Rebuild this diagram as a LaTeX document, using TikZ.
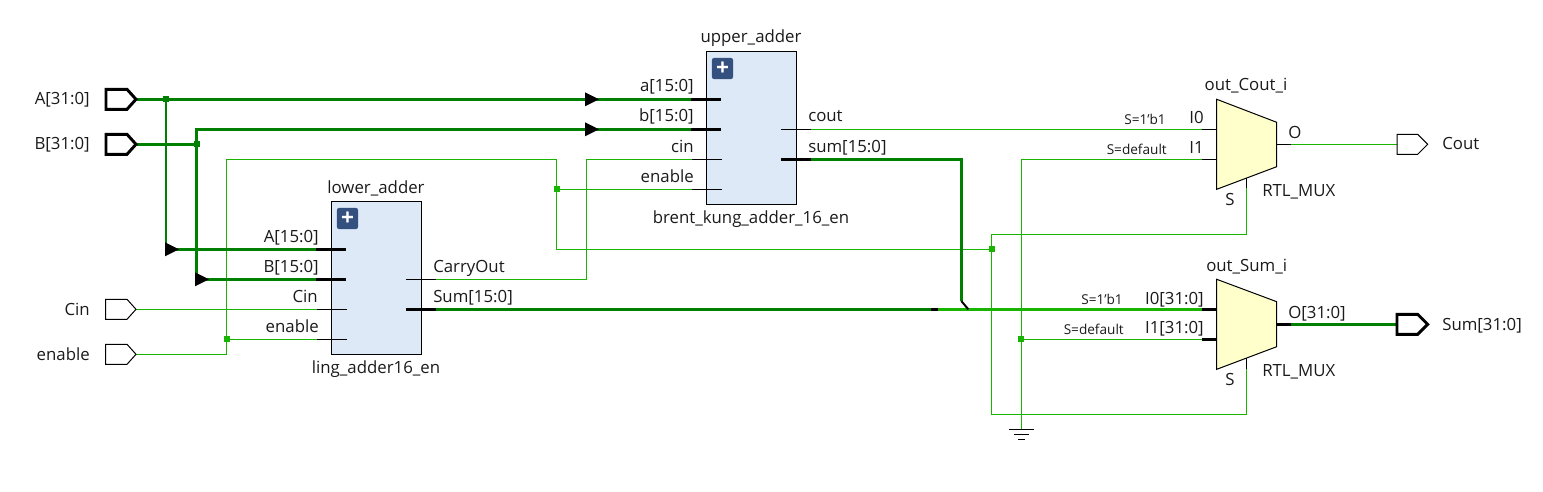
\documentclass[tikz,border=0pt]{standalone}
\usepackage{fontspec}
\setmainfont{Open Sans}
\definecolor{dkwire}{HTML}{008000}
\definecolor{ltwire}{HTML}{19B400}
\definecolor{blockfill}{HTML}{DEE9F8}
\definecolor{muxfill}{HTML}{FFFFCC}
\definecolor{iconfill}{HTML}{34507F}
\definecolor{inkc}{HTML}{1A1A1A}
\tikzset{
 x=0.75pt,y=-0.75pt,
 txt/.style={font=\fontsize{12.6}{15}\selectfont,text=inkc,inner sep=0pt},
 lab/.style={txt,anchor=base east},
 rab/.style={txt,anchor=base west},
 cab/.style={txt,anchor=base},
 small/.style={font=\fontsize{10.2}{12}\selectfont,text=inkc,inner sep=0pt,anchor=base east},
 thinw/.style={draw=ltwire,line width=0.75pt},
 busd/.style={draw=dkwire,line width=2pt},
 busl/.style={draw=ltwire,line width=2pt},
 stubn/.style={draw=black,line width=0.75pt},
 stubb/.style={draw=black,line width=2.1pt},
 blockbox/.style={draw=black,fill=blockfill,line width=0.75pt,outer sep=0pt,minimum width=67.5pt,minimum height=114.5pt,inner sep=0pt,anchor=north west},
 iconbox/.style={fill=iconfill,rounded corners=1.5pt,minimum size=15.8pt,inner sep=0pt,outer sep=0pt,text=white,font=\bfseries\fontsize{17}{17}\selectfont},
 muxshape/.style={draw=black,fill=muxfill,line width=0.75pt},
 portthin/.style={draw=black,fill=white,line width=0.75pt},
 portbus/.style={draw=black,fill=white,line width=2.2pt,miter limit=4},
 juncd/.style={fill=dkwire,minimum size=4.5pt,inner sep=0pt,outer sep=0pt},
 juncl/.style={fill=ltwire,minimum size=4.5pt,inner sep=0pt,outer sep=0pt},
 tri/.style={fill=black},
}
\begin{document}
\begin{tikzpicture}
\useasboundingbox (0,0) rectangle (1543,492);
% ports
\coordinate (pA) at (136,99.3);
\coordinate (pB) at (136,144.3);
\coordinate (pC) at (136,309.3);
\coordinate (pE) at (136,354.3);
\coordinate (pCo) at (1397,144.3);
\coordinate (pSu) at (1397,324.3);
% junctions
\coordinate (jA) at (166,99.3);
\coordinate (jB) at (196.5,144.3);
\coordinate (jE) at (226.5,339.3);
\coordinate (jU) at (556.5,189.3);
\coordinate (jS) at (991.7,249.3);
\coordinate (jG) at (1021.3,339.3);
\coordinate (gnd) at (1021.3,429.5);
% bends
\coordinate (bTop) at (226.5,159.3);
\coordinate (bUp) at (196.5,129.3);
\coordinate (bU1) at (556.5,249.3);
\coordinate (cinC) at (586.5,279.3);
\coordinate (bS1) at (991.7,234.5);
\coordinate (bS2) at (991.7,414.3);
\coordinate (bG) at (1021.3,159.3);
\coordinate (bSum) at (961.3,159.3);
\coordinate (bSumD) at (961.3,301);
\coordinate (bSumE) at (968.3,309.3);
% lower adder pins
\coordinate (lA) at (316,249.3);  \coordinate (lAi) at (346,249.3);
\coordinate (lB) at (316,279.3);  \coordinate (lBi) at (346,279.3);
\coordinate (lC) at (317,309.3);  \coordinate (lCi) at (347,309.3);
\coordinate (lE) at (317,339.3);  \coordinate (lEi) at (347,339.3);
\coordinate (lCOi) at (406,279.3); \coordinate (lCO) at (436,279.3);
\coordinate (lSi) at (406,309.3);  \coordinate (lS) at (436,309.3);
% upper adder pins
\coordinate (uA) at (691,99.3);  \coordinate (uAi) at (721,99.3);
\coordinate (uB) at (691,129.3); \coordinate (uBi) at (721,129.3);
\coordinate (uC) at (692,159.3); \coordinate (uCi) at (722,159.3);
\coordinate (uE) at (692,189.3); \coordinate (uEi) at (722,189.3);
\coordinate (uCOi) at (781,129.3); \coordinate (uCO) at (811,129.3);
\coordinate (uSi) at (781,159.3);  \coordinate (uS) at (811,159.3);
% mux pins
\coordinate (mC0) at (1201.7,129.3); \coordinate (mC0i) at (1216.7,129.3);
\coordinate (mC1) at (1201.7,159.3); \coordinate (mC1i) at (1216.7,159.3);
\coordinate (mCOi) at (1276.7,144.3); \coordinate (mCO) at (1291,144.3);
\coordinate (mCS) at (1246.7,188); \coordinate (mCSi) at (1246.7,178);
\coordinate (mS0) at (1201.7,309.3); \coordinate (mS0i) at (1216.7,309.3);
\coordinate (mS1) at (1201.7,339.3); \coordinate (mS1i) at (1216.7,339.3);
\coordinate (mSOi) at (1276.7,324.3); \coordinate (mSO) at (1291,324.3);
\coordinate (mSS) at (1246.7,369); \coordinate (mSSi) at (1246.7,358);
\coordinate (sumA) at (931,309.3); \coordinate (sumB) at (938,309.3);
% thin wires
\draw[thinw] (pC) -- (lC);
\draw[thinw] (pE) -| (bTop) -- (bTop -| jU) -- (bU1) -- (jS);
\draw[thinw] (jE) -- (lE);
\draw[thinw] (jU) -- (uE);
\draw[thinw] (lCO) -| (cinC) |- (uC);
\draw[thinw] (uCO) -- (mC0);
\draw[thinw] (bG) -- (mC1);
\draw[thinw] (jG) -- (mS1);
\draw[thinw] (bG) -- (gnd);
\draw[thinw] (mCS) |- (bS1) -- (bS2) -| (mSS);
\draw[thinw] (mCO) -- (pCo);
% buses
\draw[busd] (pA) -- (uA);
\draw[busd] (jA) |- (lA);
\draw[busd] (pB) -- (jB);
\draw[busd] (bUp |- lB) -- (jB) -- (bUp) -- (uB);
\draw[busd] (jB |- lB) -- (lB);
\draw[busd] (uS) -- (bSum) -- (bSumD);
\draw[busd] (lS) -- (sumA);
\draw[busl] (sumB) -- (mS0);
\draw[busd] (mSO) -- (pSu);
\draw[stubb,line width=1.5pt] (bSumD) -- (bSumE);
\draw[stubb] (sumA) -- (sumB);
% arrows
\fill[tri] (165,242.3) -- (179,249.3) -- (165,256.3) -- cycle;
\fill[tri] (195,272.3) -- (209,279.3) -- (195,286.3) -- cycle;
\fill[tri] (585,92.3) -- (599,99.3) -- (585,106.3) -- cycle;
\fill[tri] (585,122.3) -- (599,129.3) -- (585,136.3) -- cycle;
% junctions
\node[juncd] (njA) at (jA) {};
\node[juncd] (njB) at (jB) {};
\node[juncl] (njE) at (jE) {};
\node[juncl] (njU) at (jU) {};
\node[juncl] (njS) at (jS) {};
\node[juncl] (njG) at (jG) {};
% blocks
\node[blockbox] (lower) at (331.5,201.5) {};
\node[blockbox] (upper) at (706.5,51.5) {};
\node[iconbox] (iconL) at (347.5,218.5) {+};
\node[iconbox] (iconU) at (722.5,68.5) {+};
% stubs
\foreach \a/\b in {lA/lAi,lB/lBi,uA/uAi,uB/uBi,lSi/lS,uSi/uS,mS0/mS0i,mS1/mS1i,mSOi/mSO}
  \draw[stubb] (\a) -- (\b);
\foreach \a/\b in {lC/lCi,lE/lEi,uC/uCi,uE/uEi,lCOi/lCO,uCOi/uCO,mC0/mC0i,mC1/mC1i,mCOi/mCO,mCS/mCSi,mSS/mSSi}
  \draw[stubn] (\a) -- (\b);
% muxes
\draw[muxshape] (1216.7,99.3) -- (1276.7,122.3) -- (1276.7,166.7) -- (1216.7,189.3) -- cycle;
\draw[muxshape] (1216.7,279.3) -- (1276.7,301.7) -- (1276.7,346.7) -- (1216.7,369.3) -- cycle;
% port shapes
\draw[portbus] (106,89.3) -- (127,89.3) -- (pA) -- (127,109.3) -- (106,109.3) -- cycle;
\draw[portbus] (106,134.3) -- (127,134.3) -- (pB) -- (127,154.3) -- (106,154.3) -- cycle;
\draw[portthin] (105.5,299.3) -- (127,299.3) -- (pC) -- (127,319.3) -- (105.5,319.3) -- cycle;
\draw[portthin] (105.5,344.3) -- (127,344.3) -- (pE) -- (127,364.3) -- (105.5,364.3) -- cycle;
\draw[portthin] (pCo) -- (1397,134.3) -- (1417.7,134.3) -- (1427.7,144.3) -- (1417.7,154.3) -- (1397,154.3) -- cycle;
\draw[portbus] (pSu) -- (1397,314.3) -- (1417.7,314.3) -- (1427.7,324.3) -- (1417.7,334.3) -- (1397,334.3) -- cycle;
% ground
\draw[stubn] (1009,429.5) -- (1034,429.5);
\draw[stubn] (1014,434.5) -- (1029,434.5);
\draw[stubn] (1018,439) -- (1025,439);
% texts
\node[lab] (tA) at (90,105) {A[31:0]};
\node[lab] (tB) at (90,150) {B[31:0]};
\node[lab] (tC) at (90,315) {Cin};
\node[lab] (tE) at (90,360) {enable};
\node[lab] (tlA) at (319,242) {A[15:0]};
\node[lab] (tlB) at (319,272) {B[15:0]};
\node[lab] (tlC) at (318,302) {Cin};
\node[lab] (tlE) at (319,332) {enable};
\node[cab] (tlN) at (376,193) {lower\_adder};
\node[cab] (tlM) at (376,373) {ling\_adder16\_en};
\node[rab] (tlCO) at (433,272) {CarryOut};
\node[rab] (tlS) at (433,302) {Sum[15:0]};
\node[cab] (tuN) at (751,43) {upper\_adder};
\node[cab] (tuM) at (751,223) {brent\_kung\_adder\_16\_en};
\node[lab] (tuA) at (694,92) {a[15:0]};
\node[lab] (tuB) at (694,122) {b[15:0]};
\node[lab] (tuC) at (694,152) {cin};
\node[lab] (tuE) at (694,182) {enable};
\node[rab] (tuCO) at (808,122) {cout};
\node[rab] (tuS) at (808,152) {sum[15:0]};
\node[small] (s1) at (1166,124) {S=1\char39 b1};
\node[small] (s2) at (1167,154) {S=default};
\node[small] (s3) at (1123,304) {S=1\char39 b1};
\node[small] (s4) at (1124,334) {S=default};
\node[lab] (i0) at (1204,123) {I0};
\node[lab] (i1) at (1204,153) {I1};
\node[lab] (i2) at (1204,304) {I0[31:0]};
\node[lab] (i3) at (1204,333) {I1[31:0]};
\node[cab] (mN1) at (1246,91) {out\_Cout\_i};
\node[cab] (mN2) at (1246.7,271) {out\_Sum\_i};
\node[rab] (o1) at (1288,138) {O};
\node[rab] (o2) at (1288,318) {O[31:0]};
\node[rab] (r1) at (1262,196) {RTL\_MUX};
\node[rab] (r2) at (1262,376) {RTL\_MUX};
\node[rab] (sa) at (1225,205) {S};
\node[rab] (sb) at (1225,385) {S};
\node[rab] (tCo) at (1442,150) {Cout};
\node[rab] (tSu) at (1442,330) {Sum[31:0]};
\end{tikzpicture}
\end{document}
